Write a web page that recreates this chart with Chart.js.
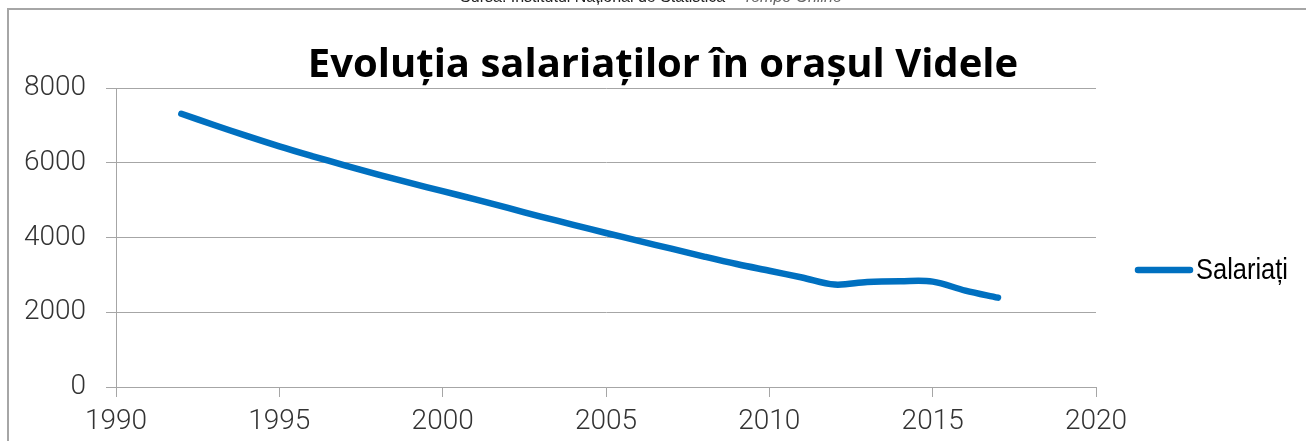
<!DOCTYPE html>
<html>
<head>
<meta charset="utf-8">
<title>Evoluția salariaților în orașul Videle</title>
<script src="https://cdn.jsdelivr.net/npm/chart.js@4.4.1/dist/chart.umd.min.js"></script>
<style>
  html, body { margin: 0; padding: 0; background: #fff; }
  #wrap { width: 1306px; height: 441px; position: relative; }
</style>
</head>
<body>
<div id="wrap"><canvas id="myChart" width="1306" height="441"></canvas></div>
<script>
// data
var years = [1992, 1993, 1994, 1995, 1996, 1997, 1998, 1999, 2000, 2001, 2002, 2003, 2004,
             2005, 2006, 2007, 2008, 2009, 2010, 2011, 2012, 2013, 2014, 2015, 2016, 2017];
var salariati = [7310, 7010, 6720, 6440, 6180, 5930, 5690, 5460, 5240, 5020, 4790, 4560, 4340,
                 4120, 3910, 3700, 3490, 3290, 3110, 2930, 2740, 2810, 2830, 2820, 2580, 2390];
var xTicks = [1990, 1995, 2000, 2005, 2010, 2015, 2020];
var yTicks = [0, 2000, 4000, 6000, 8000];

var chartTitle = 'Evoluția salariaților în orașul Videle';
var sourceText = 'Sursa: Institutul Național de Statistică';
var sourceText2 = ' – Tempo Online';

var tickFont = { family: "Roboto, 'Open Sans', sans-serif", size: 28, weight: 300 };

var points = years.map(function (y, i) { return { x: y, y: salariati[i] }; });

// frame, caption, title and legend drawn around the plot
var decorPlugin = {
    id: 'decor',
    beforeDraw: function (chart) {
        var c = chart.ctx;
        c.save();
        c.fillStyle = '#fff';
        c.fillRect(0, 0, chart.width, chart.height);
        // cut-off caption above the frame
        c.fillStyle = '#222';
        c.font = "16px 'Liberation Sans', Arial, sans-serif";
        c.textBaseline = 'alphabetic';
        var w1 = c.measureText(sourceText).width;
        c.font = "italic 16px 'Liberation Sans', Arial, sans-serif";
        var w2 = c.measureText(sourceText2).width;
        var sx = 651 - (w1 + w2) / 2;
        c.font = "16px 'Liberation Sans', Arial, sans-serif";
        c.fillText(sourceText, sx, 2);
        c.fillStyle = '#666';
        c.font = "italic 16px 'Liberation Sans', Arial, sans-serif";
        c.fillText(sourceText2, sx + w1, 2);
        // frame
        c.strokeStyle = '#a6a6a6';
        c.lineWidth = 2;
        c.beginPath();
        c.moveTo(8, chart.height + 2);
        c.lineTo(8, 9);
        c.lineTo(chart.width + 2, 9);
        c.stroke();
        c.restore();
    },
    afterDraw: function (chart) {
        var c = chart.ctx;
        c.save();
        // title
        c.fillStyle = '#000';
        c.font = "bold 40px 'Open Sans', sans-serif";
        c.textAlign = 'center';
        c.textBaseline = 'alphabetic';
        c.fillText(chartTitle, 663, 77);
        // legend
        var ds = chart.data.datasets[0];
        c.strokeStyle = ds.borderColor;
        c.lineWidth = ds.borderWidth;
        c.lineCap = 'round';
        c.beginPath();
        c.moveTo(1138, 270);
        c.lineTo(1190, 270);
        c.stroke();
        // narrow sans: regular sans squeezed horizontally
        c.fillStyle = '#000';
        c.font = "30px 'Liberation Sans', Arial, sans-serif";
        c.textAlign = 'left';
        c.textBaseline = 'middle';
        var tw = c.measureText(ds.label).width;
        c.translate(1196, 271);
        c.scale(92 / tw, 1);
        c.fillText(ds.label, 0, 0);
        c.restore();
    }
};

var ctx = document.getElementById('myChart').getContext('2d');
var myChart = new Chart(ctx, {
    type: 'line',
    data: {
        datasets: [
            {
                label: 'Salariați',
                data: points,
                borderColor: '#0070C0',
                borderWidth: 6.5,
                borderCapStyle: 'round',
                borderJoinStyle: 'round',
                pointRadius: 0,
                fill: false,
                tension: 0.35
            }
        ]
    },
    options: {
        responsive: false,
        animation: false,
        layout: { padding: { top: 88, right: 210, left: 0, bottom: 0 } },
        plugins: {
            legend: { display: false },
            title: { display: false },
            tooltip: { enabled: false }
        },
        scales: {
            x: {
                type: 'linear',
                min: 1990,
                max: 2020,
                afterBuildTicks: function (axis) {
                    axis.ticks = xTicks.map(function (v) { return { value: v }; });
                },
                afterFit: function (axis) { axis.height = 54; },
                grid: {
                    drawOnChartArea: false,
                    drawTicks: true,
                    tickLength: 10,
                    color: '#a6a6a6'
                },
                border: { display: true, color: '#a6a6a6' },
                ticks: {
                    color: '#333',
                    padding: 8,
                    maxRotation: 0,
                    font: tickFont,
                    callback: function (v) { return String(v); }
                }
            },
            y: {
                min: 0,
                max: 8000,
                afterBuildTicks: function (axis) {
                    axis.ticks = yTicks.map(function (v) { return { value: v }; });
                },
                afterFit: function (axis) { axis.width = 116; },
                grid: {
                    drawTicks: true,
                    tickLength: 10,
                    color: '#a6a6a6'
                },
                border: { display: true, color: '#a6a6a6' },
                ticks: {
                    color: '#333',
                    padding: 20,
                    font: tickFont,
                    callback: function (v) { return String(v); }
                }
            }
        }
    },
    plugins: [decorPlugin]
});
</script>
</body>
</html>
